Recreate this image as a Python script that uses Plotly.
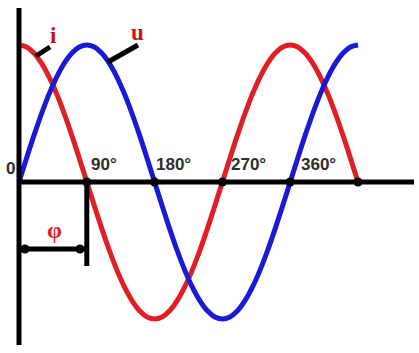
import plotly.graph_objects as go

# ---- data ----
angles_deg = list(range(0, 451, 10))
u_values = [0, .174, .342, .5, .643, .766, .866, .940, .985, 1,
            .985, .940, .866, .766, .643, .5, .342, .174, 0,
            -.174, -.342, -.5, -.643, -.766, -.866, -.940, -.985, -1,
            -.985, -.940, -.866, -.766, -.643, -.5, -.342, -.174, 0,
            .174, .342, .5, .643, .766, .866, .940, .985, 1]
i_values = [1, .985, .940, .866, .766, .643, .5, .342, .174, 0,
            -.174, -.342, -.5, -.643, -.766, -.866, -.940, -.985, -1,
            -.985, -.940, -.866, -.766, -.643, -.5, -.342, -.174, 0,
            .174, .342, .5, .643, .766, .866, .940, .985, 1,
            .985, .940, .866, .766, .643, .5, .342, .174, 0]
tick_angles = [90, 180, 270, 360, 450]
tick_labels = ["90°", "180°", "270°", "360°"]
phase_deg = 90

RED = "#e01e24"
BLUE = "#1a1ad6"
W, H = 419, 353
X0PX, PX_PER_DEG = 19, 0.7533
Y0PX, PX_PER_UNIT = 182, 137


def dx(px):
    return (px - X0PX) / PX_PER_DEG


def dy(py):
    return (Y0PX - py) / PX_PER_UNIT


fig = go.Figure()

# axes
fig.add_shape(type="line", x0=0, x1=0, y0=dy(345), y1=dy(8),
              line=dict(color="black", width=5))
fig.add_shape(type="line", x0=0, x1=dx(414), y0=0, y1=0,
              line=dict(color="black", width=5))

# phase marker
fig.add_shape(type="line", x0=phase_deg, x1=phase_deg, y0=0, y1=dy(266),
              line=dict(color="black", width=5))
fig.add_shape(type="line", x0=0, x1=phase_deg, y0=dy(249), y1=dy(249),
              line=dict(color="black", width=5))

# label leader lines
fig.add_shape(type="line", x0=dx(36), y0=dy(56), x1=dx(50), y1=dy(47),
              line=dict(color="black", width=5))
fig.add_shape(type="line", x0=dx(108), y0=dy(62), x1=dx(138), y1=dy(45),
              line=dict(color="black", width=5))

fig.add_trace(go.Scatter(x=angles_deg, y=i_values, mode="lines",
                         line=dict(color=RED, width=5, shape="spline"),
                         hoverinfo="skip"))
fig.add_trace(go.Scatter(x=angles_deg, y=u_values, mode="lines",
                         line=dict(color=BLUE, width=5, shape="spline"),
                         hoverinfo="skip"))

# dots on axis
fig.add_trace(go.Scatter(x=tick_angles, y=[0] * len(tick_angles), mode="markers",
                         marker=dict(color="black", size=9), hoverinfo="skip"))
fig.add_trace(go.Scatter(x=[dx(25), dx(80)], y=[dy(249), dy(249)], mode="markers",
                         marker=dict(color="black", size=9), hoverinfo="skip"))

lab_font = dict(family="Liberation Sans, Arial", size=17, color="#2e2e2e")
fig.add_annotation(x=dx(10), y=dy(168), text="<b>0</b>", showarrow=False,
                   font=lab_font, xanchor="center", yanchor="middle")
label_px = [89, 154, 229, 299]
for lab, lx in zip(tick_labels, label_px):
    fig.add_annotation(x=dx(lx), y=dy(164), text=f"<b>{lab}</b>", showarrow=False,
                       font=lab_font, xanchor="left", yanchor="middle")

serif = "Liberation Serif, Times New Roman"
fig.add_annotation(x=dx(53), y=dy(35), text="<b>i</b>", showarrow=False,
                   font=dict(family=serif, size=23, color="#c8141c"),
                   xanchor="center", yanchor="middle")
fig.add_annotation(x=dx(137), y=dy(32), text="<b>u</b>", showarrow=False,
                   font=dict(family=serif, size=23, color="#c8141c"),
                   xanchor="center", yanchor="middle")
fig.add_annotation(x=dx(54), y=dy(230), text="<b>φ</b>", showarrow=False,
                   font=dict(family=serif, size=24, color=RED),
                   xanchor="center", yanchor="middle")

fig.update_layout(
    width=W, height=H, margin=dict(l=0, r=0, t=0, b=0),
    paper_bgcolor="white", plot_bgcolor="white", showlegend=False,
    xaxis=dict(range=[dx(0), dx(W)], visible=False, fixedrange=True),
    yaxis=dict(range=[dy(H), dy(0)], visible=False, fixedrange=True),
)

fig.write_html("out.html", config={"displayModeBar": False},
               post_script="document.body.style.margin='0';")
